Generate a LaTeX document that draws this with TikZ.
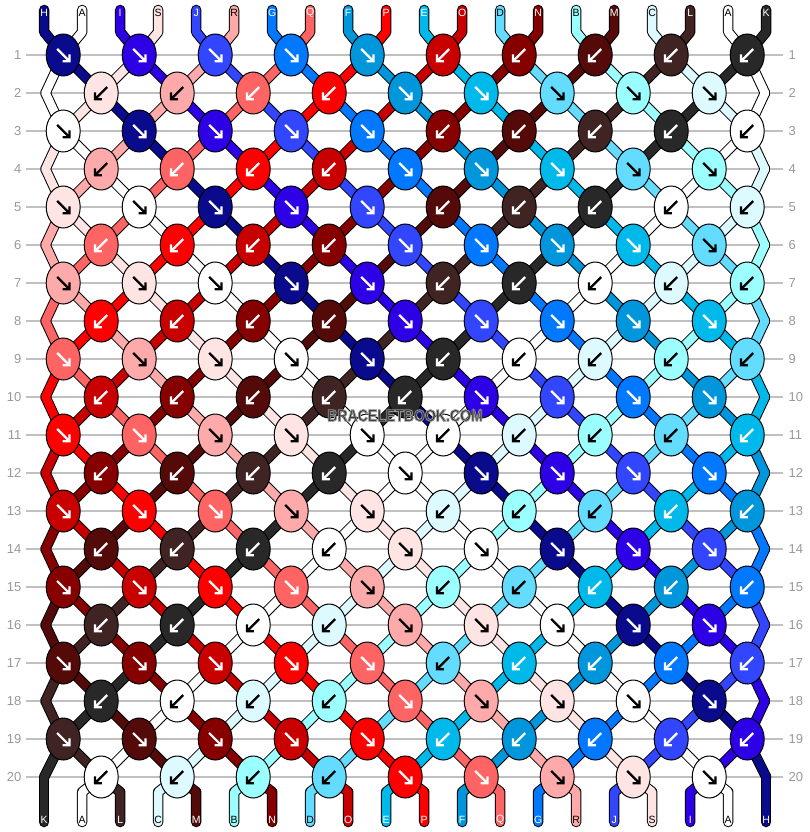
\documentclass[tikz,border=0pt]{standalone}
\usepackage{fontspec}
\setmainfont{Liberation Sans}
\usepackage{graphicx}
\usetikzlibrary{shapes.geometric}

\definecolor{sH}{HTML}{0A0A8C}
\definecolor{sA}{HTML}{FFFFFF}
\definecolor{sI}{HTML}{2D00E6}
\definecolor{sS}{HTML}{FFE4E4}
\definecolor{sJ}{HTML}{3346FF}
\definecolor{sR}{HTML}{FFAAAA}
\definecolor{sG}{HTML}{0078FF}
\definecolor{sQ}{HTML}{FF6464}
\definecolor{sF}{HTML}{0096DC}
\definecolor{sP}{HTML}{FF0000}
\definecolor{sE}{HTML}{00B9EB}
\definecolor{sO}{HTML}{C80000}
\definecolor{sD}{HTML}{64DCFF}
\definecolor{sN}{HTML}{870000}
\definecolor{sB}{HTML}{9BFFFF}
\definecolor{sM}{HTML}{550A0A}
\definecolor{sC}{HTML}{DCFAFF}
\definecolor{sL}{HTML}{402424}
\definecolor{sK}{HTML}{282828}
\definecolor{rowgray}{HTML}{C0C0C0}
\definecolor{numgray}{HTML}{999999}
\definecolor{wmgray}{HTML}{303030}
% arrow / label colours
\colorlet{aH}{white}\colorlet{aA}{black}\colorlet{aI}{white}\colorlet{aS}{black}
\colorlet{aJ}{white}\colorlet{aR}{black}\colorlet{aG}{white}\colorlet{aQ}{white}
\colorlet{aF}{white}\colorlet{aP}{white}\colorlet{aE}{white}\colorlet{aO}{white}
\colorlet{aD}{black}\colorlet{aN}{white}\colorlet{aB}{black}\colorlet{aM}{white}
\colorlet{aC}{black}\colorlet{aL}{white}\colorlet{aK}{white}

\tikzset{
  outl/.style={draw=black,line width=10.5pt,line cap=round,line join=round},
  fillc/.style={draw=s#1,line width=8.5pt,line cap=round,line join=round},
  knot/.style={ellipse,draw=black,line width=1pt,minimum width=34pt,minimum height=42pt,inner sep=0pt},
  arr/.style={draw=#1,line width=2.2pt,line cap=butt,line join=miter},
  rowline/.style={draw=rowgray,line width=1.2pt},
  rownum/.style={text=numgray,inner sep=0pt,font=\fontsize{13}{13}\selectfont},
  lab/.style={text=#1,inner sep=0pt,font=\fontsize{10.5}{10.5}\selectfont},
}

\newcommand\setrow[3]{\expandafter\def\csname #1#2\endcsname{#3}}
% strands by position after each row
\setrow{Srow}{1}{A,H,S,I,R,J,Q,G,P,F,O,E,N,D,M,B,L,C,K,A}
\setrow{Srow}{2}{A,S,H,R,I,Q,J,P,G,O,F,N,E,M,D,L,B,K,C,A}
\setrow{Srow}{3}{S,A,R,H,Q,I,P,J,O,G,N,F,M,E,L,D,K,B,A,C}
\setrow{Srow}{4}{S,R,A,Q,H,P,I,O,J,N,G,M,F,L,E,K,D,A,B,C}
\setrow{Srow}{5}{R,S,Q,A,P,H,O,I,N,J,M,G,L,F,K,E,A,D,C,B}
\setrow{Srow}{6}{R,Q,S,P,A,O,H,N,I,M,J,L,G,K,F,A,E,C,D,B}
\setrow{Srow}{7}{Q,R,P,S,O,A,N,H,M,I,L,J,K,G,A,F,C,E,B,D}
\setrow{Srow}{8}{Q,P,R,O,S,N,A,M,H,L,I,K,J,A,G,C,F,B,E,D}
\setrow{Srow}{9}{P,Q,O,R,N,S,M,A,L,H,K,I,A,J,C,G,B,F,D,E}
\setrow{Srow}{10}{P,O,Q,N,R,M,S,L,A,K,H,A,I,C,J,B,G,D,F,E}
\setrow{Srow}{11}{O,P,N,Q,M,R,L,S,K,A,A,H,C,I,B,J,D,G,E,F}
\setrow{Srow}{12}{O,N,P,M,Q,L,R,K,S,A,A,C,H,B,I,D,J,E,G,F}
\setrow{Srow}{13}{N,O,M,P,L,Q,K,R,A,S,C,A,B,H,D,I,E,J,F,G}
\setrow{Srow}{14}{N,M,O,L,P,K,Q,A,R,C,S,B,A,D,H,E,I,F,J,G}
\setrow{Srow}{15}{M,N,L,O,K,P,A,Q,C,R,B,S,D,A,E,H,F,I,G,J}
\setrow{Srow}{16}{M,L,N,K,O,A,P,C,Q,B,R,D,S,E,A,F,H,G,I,J}
\setrow{Srow}{17}{L,M,K,N,A,O,C,P,B,Q,D,R,E,S,F,A,G,H,J,I}
\setrow{Srow}{18}{L,K,M,A,N,C,O,B,P,D,Q,E,R,F,S,G,A,J,H,I}
\setrow{Srow}{19}{K,L,A,M,C,N,B,O,D,P,E,Q,F,R,G,S,J,A,I,H}
% knots: colour letter / direction (f = forward, b = backward)
\setrow{Krow}{1}{H/f,I/f,J/f,G/f,F/f,O/b,N/b,M/b,L/b,K/b}
\setrow{Krow}{2}{S/b,R/b,Q/b,P/b,F/f,E/f,D/f,B/f,C/f}
\setrow{Krow}{3}{A/f,H/f,I/f,J/f,G/f,N/b,M/b,L/b,K/b,A/b}
\setrow{Krow}{4}{R/b,Q/b,P/b,O/b,G/f,F/f,E/f,D/f,B/f}
\setrow{Krow}{5}{S/f,A/f,H/f,I/f,J/f,M/b,L/b,K/b,A/b,C/b}
\setrow{Krow}{6}{Q/b,P/b,O/b,N/b,J/f,G/f,F/f,E/f,D/f}
\setrow{Krow}{7}{R/f,S/f,A/f,H/f,I/f,L/b,K/b,A/b,C/b,B/b}
\setrow{Krow}{8}{P/b,O/b,N/b,M/b,I/f,J/f,G/f,F/f,E/f}
\setrow{Krow}{9}{Q/f,R/f,S/f,A/f,H/f,K/b,A/b,C/b,B/b,D/b}
\setrow{Krow}{10}{O/b,N/b,M/b,L/b,K/b,I/f,J/f,G/f,F/f}
\setrow{Krow}{11}{P/f,Q/f,R/f,S/f,A/f,A/b,C/b,B/b,D/b,E/b}
\setrow{Krow}{12}{N/b,M/b,L/b,K/b,A/f,H/f,I/f,J/f,G/f}
\setrow{Krow}{13}{O/f,P/f,Q/f,R/f,S/f,C/b,B/b,D/b,E/b,F/b}
\setrow{Krow}{14}{M/b,L/b,K/b,A/b,S/f,A/f,H/f,I/f,J/f}
\setrow{Krow}{15}{N/f,O/f,P/f,Q/f,R/f,B/b,D/b,E/b,F/b,G/b}
\setrow{Krow}{16}{L/b,K/b,A/b,C/b,R/f,S/f,A/f,H/f,I/f}
\setrow{Krow}{17}{M/f,N/f,O/f,P/f,Q/f,D/b,E/b,F/b,G/b,J/b}
\setrow{Krow}{18}{K/b,A/b,C/b,B/b,Q/f,R/f,S/f,A/f,H/f}
\setrow{Krow}{19}{L/f,M/f,N/f,O/f,P/f,E/b,F/b,G/b,J/b,I/b}
\setrow{Krow}{20}{A/b,C/b,B/b,D/b,P/f,Q/f,R/f,S/f,A/f}

% name of the point where the strand at position #2 sits in row #1
\newcommand\ptname[3]{%
  \pgfmathtruncatemacro\tmpodd{mod(#1,2)}%
  \ifnum\tmpodd=1\relax
    \pgfmathtruncatemacro\tmpk{(#2+1)/2}%
    \edef#3{k#1-\tmpk}%
  \else
    \ifnum#2=1\relax \edef#3{k#1-L}%
    \else\ifnum#2=20\relax \edef#3{k#1-R}%
    \else \pgfmathtruncatemacro\tmpk{#2/2}\edef#3{k#1-\tmpk}%
    \fi\fi
  \fi}

\newcommand\allsegs[1]{%
  \foreach \cl [count=\ps] in {H,A,I,S,J,R,G,Q,F,P,E,O,D,N,B,M,C,L,A,K}{%
    \pgfmathtruncatemacro\kk{(\ps+1)/2}%
    \draw[#1=\cl] (u\ps) -- (t\ps) -- (k1-\kk);
  }%
  \foreach \rw in {1,...,19}{%
    \pgfmathtruncatemacro\rr{\rw+1}%
    \edef\lst{\csname Srow\rw\endcsname}%
    \foreach \cl [count=\ps] in \lst {%
      \ptname{\rw}{\ps}{\myA}\ptname{\rr}{\ps}{\myB}%
      \draw[#1=\cl] (\myA) -- (\myB);
    }%
  }%
  \foreach \cl [count=\ps] in {K,A,L,C,M,B,N,D,O,E,P,F,Q,G,R,J,S,I,A,H}{%
    \ifnum\ps=1\relax \draw[#1=\cl] (k20-L) -- (v1);
    \else\ifnum\ps=20\relax \draw[#1=\cl] (k20-R) -- (v20);
    \else \pgfmathtruncatemacro\kk{\ps/2}\draw[#1=\cl] (k20-\kk) -- (b\ps) -- (v\ps);
    \fi\fi
  }%
}

% text filled dark and stroked with a thin grey outline
\newcommand\halotext[1]{%
  \special{pdf:literal direct 2 Tr 0.8 w 0.58 0.58 0.58 RG}#1\special{pdf:literal direct 0 Tr}}

\begin{document}
\begin{tikzpicture}[x=1pt,y=-1pt]
\useasboundingbox (0,0) rectangle (810,832);
\fill[white] (0,0) rectangle (810,832);

% knot and edge points
\foreach \rw in {1,...,20}{%
  \pgfmathsetmacro\yy{55+38*(\rw-1)}%
  \pgfmathtruncatemacro\od{mod(\rw,2)}%
  \ifnum\od=1\relax
    \foreach \kn in {1,...,10}{\coordinate (k\rw-\kn) at ({63.2+76*(\kn-1)},\yy);}%
  \else
    \foreach \kn in {1,...,9}{\coordinate (k\rw-\kn) at ({101.2+76*(\kn-1)},\yy);}%
    \coordinate (k\rw-L) at (45.5,\yy);
    \coordinate (k\rw-R) at (765,\yy);
  \fi
}
\coordinate (k20-L) at (44.2,777);
\coordinate (k20-R) at (766.2,777);
\foreach \ps in {1,...,20}{%
  \pgfmathsetmacro\xx{44.2+38*(\ps-1)}%
  \coordinate (u\ps) at (\xx,10);
  \coordinate (t\ps) at (\xx,32);
  \coordinate (b\ps) at (\xx,792);
  \coordinate (v\ps) at (\xx,822);
}

% row guide lines and numbers
\foreach \rw in {1,...,20}{%
  \pgfmathsetmacro\yy{55+38*(\rw-1)}%
  \draw[rowline] (26,\yy) -- (783,\yy);
  \node[rownum,anchor=east] (ln\rw) at (21.5,\yy) {\rw};
  \node[rownum,anchor=west] (rn\rw) at (788.5,\yy) {\rw};
}

% strands
\allsegs{outl}
\allsegs{fillc}

% knots
\foreach \rw in {1,...,20}{%
  \edef\lst{\csname Krow\rw\endcsname}%
  \foreach \cl/\dr [count=\kn] in \lst {%
    \node[knot,fill=s\cl] (n\rw-\kn) at (k\rw-\kn) {};
    \if f\dr
      \draw[arr=a\cl,shift={(k\rw-\kn)}] (-6,-6) -- (6.3,6.3) (-0.7,6.3) -- (6.3,6.3) -- (6.3,-0.7);
    \else
      \draw[arr=a\cl,shift={(k\rw-\kn)}] (6,-6) -- (-6.3,6.3) (0.7,6.3) -- (-6.3,6.3) -- (-6.3,-0.7);
    \fi
  }%
}

% strand labels
\foreach \cl [count=\ps] in {H,A,I,S,J,R,G,Q,F,P,E,O,D,N,B,M,C,L,A,K}{%
  \node[lab=a\cl] (tl\ps) at ({44.2+38*(\ps-1)},12.5) {\cl};
}
\foreach \cl [count=\ps] in {K,A,L,C,M,B,N,D,O,E,P,F,Q,G,R,J,S,I,A,H}{%
  \node[lab=a\cl] (bl\ps) at ({44.2+38*(\ps-1)},819.5) {\cl};
}

% watermark
\node[text=wmgray,inner sep=0pt,font=\bfseries\fontsize{14.5}{14.5}\selectfont] (wm) at (405,415.5) {\scalebox{0.97}[1.15]{\halotext{BRACELETBOOK.COM}}};
\end{tikzpicture}
\end{document}
